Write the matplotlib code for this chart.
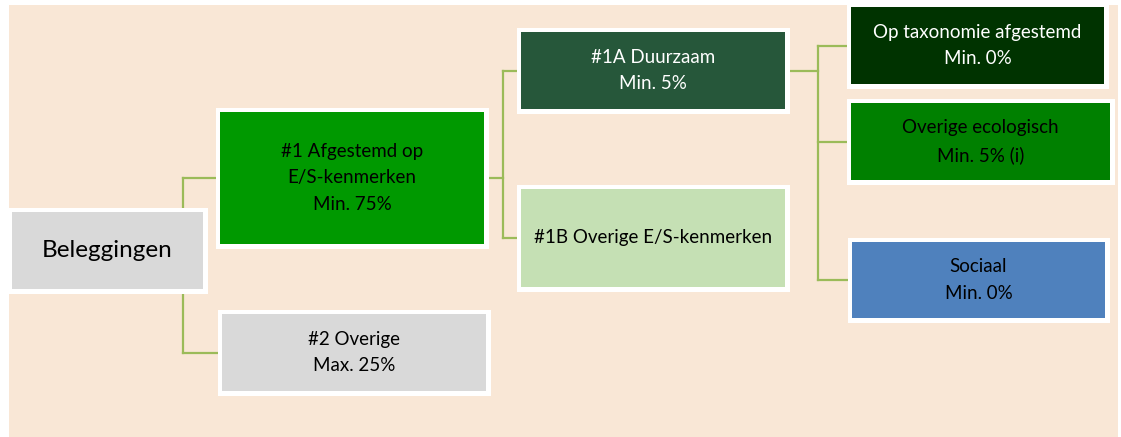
import matplotlib
matplotlib.use("Agg")
import matplotlib.pyplot as plt
from matplotlib.patches import Rectangle

plt.rcParams['font.family'] = ['Lato', 'DejaVu Sans']

# tree nodes: Beleggingen -> #1 / #2, #1 -> #1A / #1B, #1A -> three sub categories
labels = ["Beleggingen",
          "#1 Afgestemd op\nE/S-kenmerken\nMin. 75%",
          "#2 Overige\nMax. 25%",
          "#1A Duurzaam\nMin. 5%",
          "#1B Overige E/S-kenmerken",
          "Op taxonomie afgestemd\nMin. 0%",
          "Overige ecologisch\nMin. 5% (i)",
          "Sociaal\nMin. 0%"]
parents = [None, 0, 0, 1, 1, 3, 3, 3]
fill_colors = ["#d9d9d9", "#009900", "#d9d9d9", "#26573a", "#c5e0b4",
               "#003300", "#008000", "#4f81bd"]
text_colors = ["black", "black", "black", "white", "black",
               "white", "black", "black"]

# layout in pixels (x0, y0, x1, y1 of the coloured part of each box)
boxes = [(12, 212, 203, 289), (220, 112, 484, 244), (222, 314, 486, 391),
         (521, 32, 785, 109), (521, 189, 785, 287),
         (851, 7, 1104, 84), (851, 103, 1110, 180), (852, 242, 1105, 318)]
bus_x = {0: 183, 1: 503, 3: 818}
pad = 4.5
line_col = "#9bbb59"

fig = plt.figure(figsize=(11.21, 4.37), dpi=100)
ax = fig.add_axes([0, 0, 1, 1])
ax.set_xlim(0, 1121)
ax.set_ylim(437, 0)
ax.axis('off')

ax.add_patch(Rectangle((9, 5), 1109, 432, facecolor="#f9e7d6", edgecolor="none", zorder=0))

def center(i):
    x0, y0, x1, y1 = boxes[i]
    return (x0 + x1) / 2, (y0 + y1) / 2

# connectors
for p, bx in bus_x.items():
    kids = [i for i, q in enumerate(parents) if q == p]
    px, py = center(p)
    ys = [center(k)[1] for k in kids]
    ax.plot([px, bx], [py, py], color=line_col, lw=1.6, zorder=1)
    ax.plot([bx, bx], [min(ys + [py]), max(ys + [py])], color=line_col, lw=1.6, zorder=1)
    for k, ky in zip(kids, ys):
        ax.plot([bx, boxes[k][0]], [ky, ky], color=line_col, lw=1.6, zorder=1)

# boxes
for i, (x0, y0, x1, y1) in enumerate(boxes):
    ax.add_patch(Rectangle((x0 - pad, y0 - pad), x1 - x0 + 2 * pad, y1 - y0 + 2 * pad,
                           facecolor="white", edgecolor="none", zorder=2))
    ax.add_patch(Rectangle((x0, y0), x1 - x0, y1 - y0, facecolor=fill_colors[i],
                           edgecolor="none", zorder=3))
    cx, cy = center(i)
    ax.text(cx, cy, labels[i], ha="center", va="center", ma="center",
            color=text_colors[i], fontsize=17.5 if i == 0 else 13.5,
            linespacing=1.65, zorder=4)

fig.savefig("out.png", dpi=100, facecolor="white")
